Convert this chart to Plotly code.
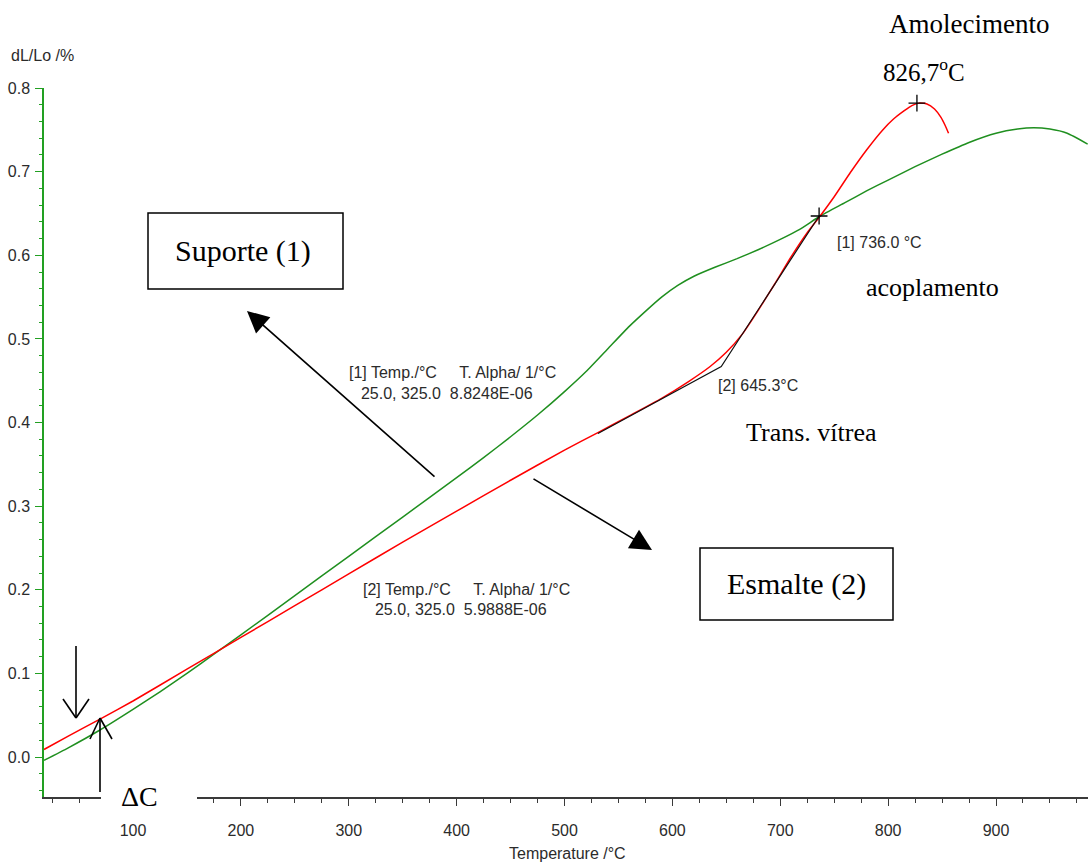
import plotly.graph_objects as go

# ---------------- data ----------------
suporte_T = [17.5, 40, 69, 100, 125, 150, 175, 200, 250, 300, 350, 400, 425, 450, 475, 500, 520,
             540, 560, 575, 590, 605, 620, 640, 660, 680, 700, 718, 737, 760, 780, 800, 825,
             850, 875, 900, 920, 935, 950, 966, 985]
suporte_dL = [-0.004, 0.011, 0.032, 0.057, 0.078, 0.100, 0.123, 0.146, 0.193, 0.240, 0.287, 0.334,
              0.358, 0.383, 0.409, 0.437, 0.461, 0.488, 0.515, 0.533, 0.550, 0.564, 0.575, 0.586,
              0.596, 0.607, 0.619, 0.631, 0.647, 0.663, 0.677, 0.690, 0.706, 0.721, 0.735,
              0.746, 0.751, 0.7525, 0.751, 0.746, 0.733]

esmalte_T = [17.5, 40, 69, 100, 150, 200, 250, 300, 350, 400, 450, 500, 531, 560, 590, 615, 635,
             650, 665, 680, 695, 710, 725, 737, 750, 765, 780, 795, 805, 815, 822, 828.6, 836,
             843, 849, 853, 856]
esmalte_dL = [0.009, 0.025, 0.045, 0.067, 0.105, 0.143, 0.181, 0.219, 0.257, 0.294, 0.331, 0.367,
              0.388, 0.408, 0.429, 0.449, 0.467, 0.484, 0.506, 0.535, 0.566, 0.598, 0.627, 0.647,
              0.670, 0.699, 0.726, 0.750, 0.763, 0.773, 0.779, 0.782, 0.781, 0.775, 0.765,
              0.755, 0.746]

tangent_T = [531, 645.3, 736.0]
tangent_dL = [0.387, 0.467, 0.647]

point_T = [736.0, 826.7]
point_dL = [0.647, 0.782]

x_ticks = [100, 200, 300, 400, 500, 600, 700, 800, 900]
y_ticks = [0.0, 0.1, 0.2, 0.3, 0.4, 0.5, 0.6, 0.7, 0.8]

# ---------------- layout geometry ----------------
W, H = 1088, 864
L, R, T, B = 44, 0, 88, 67
PW, PH = W - L - R, H - T - B


def px(x):
    return (x - L) / PW


def py(y):
    return (H - B - y) / PH


GREEN = "#1f8f1f"
AXGREEN = "#22a022"
RED = "#ff0000"
TXT = "#2b2b2b"
SANS = "Liberation Sans, Arial, sans-serif"
SERIF = "Liberation Serif, Times New Roman, serif"

fig = go.Figure()
fig.add_trace(go.Scatter(x=suporte_T, y=suporte_dL, mode="lines",
                         line=dict(color=GREEN, width=1.5, shape="spline", smoothing=0.5),
                         hoverinfo="skip"))
fig.add_trace(go.Scatter(x=esmalte_T, y=esmalte_dL, mode="lines",
                         line=dict(color=RED, width=1.5, shape="spline", smoothing=0.5),
                         hoverinfo="skip"))
fig.add_trace(go.Scatter(x=tangent_T, y=tangent_dL, mode="lines",
                         line=dict(color="#111111", width=1.2), hoverinfo="skip"))
fig.add_trace(go.Scatter(x=point_T, y=point_dL, mode="markers",
                         marker=dict(symbol="cross-thin", size=12,
                                     line=dict(color="black", width=1.3)),
                         hoverinfo="skip"))

annotations = []


def text(s, x, y, size=17, font=SANS, xanchor="left", color=TXT):
    annotations.append(dict(text=s, x=px(x), y=py(y), xref="paper", yref="paper",
                            xanchor=xanchor, yanchor="middle", showarrow=False,
                            font=dict(family=font, size=size, color=color)))


NB = "\u00a0"
text("dL/Lo /%", 9, 55, size=16)
text("Temperature /°C", 567, 853, size=16, xanchor="center")
text("Amolecimento", 969, 24, size=27, font=SERIF, xanchor="center", color="black")
text("826,7<sup>o</sup>C", 924, 70, size=25, font=SERIF, xanchor="center", color="black")
text("[1] 736.0 °C", 835, 242, size=16)
text("acoplamento", 932, 287, size=26, font=SERIF, xanchor="center", color="black")
text("[2] 645.3°C", 716, 385, size=16)
text("Trans. vítrea", 811, 432, size=26, font=SERIF, xanchor="center", color="black")
text("[1] Temp./°C" + NB * 5 + "T. Alpha/ 1/°C", 347, 372, size=16)
text(NB * 2 + "25.0, 325.0" + NB * 2 + "8.8248E-06", 350, 393, size=16)
text("[2] Temp./°C" + NB * 5 + "T. Alpha/ 1/°C", 361, 589, size=16)
text(NB * 2 + "25.0, 325.0" + NB * 2 + "5.9888E-06", 364, 609, size=16)
text("Suporte (1)", 243, 251, size=30, font=SERIF, xanchor="center", color="black")
text("Esmalte (2)", 796, 584, size=30, font=SERIF, xanchor="center", color="black")
text("ΔC", 119, 796, size=28, font=SERIF, color="black")

# big arrows (head position, tail offset in pixels)
for hx, hy, tx, ty in [(247, 311, 436, 478), (652, 550, 532, 478)]:
    annotations.append(dict(text="", x=px(hx), y=py(hy), xref="paper", yref="paper",
                            ax=tx - hx, ay=ty - hy, axref="pixel", ayref="pixel",
                            showarrow=True, arrowhead=2, arrowsize=2.7, arrowwidth=1.6,
                            arrowcolor="black", standoff=0))

shapes = []


def pline(x0, y0, x1, y1, w=1.6, color="black"):
    shapes.append(dict(type="line", xref="paper", yref="paper", x0=px(x0), y0=py(y0),
                       x1=px(x1), y1=py(y1), line=dict(color=color, width=w), layer="above"))


def prect(x0, y0, x1, y1, w=1.5, fill="rgba(0,0,0,0)", lc="black"):
    shapes.append(dict(type="rect", xref="paper", yref="paper", x0=px(x0), y0=py(y1),
                       x1=px(x1), y1=py(y0), line=dict(color=lc, width=w),
                       fillcolor=fill, layer="above"))


# white patch behind ΔC hiding the axis line
prect(101, 780, 197, 812, w=0, fill="white", lc="rgba(0,0,0,0)")
# text boxes
prect(148, 213, 343, 289)
prect(700, 548, 893, 620)
# small open arrows
pline(76, 646, 76, 718)
pline(63, 699, 76, 718)
pline(89, 699, 76, 718)
pline(100, 792, 100, 718)
pline(90, 739, 100, 718)
pline(112, 739, 100, 718)

# axis ranges from pixel calibration (100 °C -> x=133, 900 °C -> x=996; 0.0 -> y=757, 0.8 -> y=88)
xs = (996 - 133) / 800.0
x0c = 133 - 100 * xs
x_range = [(L - x0c) / xs, (W - R - x0c) / xs]
ys = (757 - 88) / 0.8
y_range = [(757 - (H - B)) / ys, 0.8001]

fig.update_layout(
    width=W, height=H, autosize=False,
    margin=dict(l=L, r=R, t=T, b=B, pad=0),
    paper_bgcolor="white", plot_bgcolor="white",
    showlegend=False,
    annotations=annotations, shapes=shapes,
    xaxis=dict(range=x_range, showgrid=False, zeroline=False, showline=True,
               linecolor="#3a3a3a", linewidth=1.5, ticks="outside", ticklen=7,
               tickcolor="#3a3a3a", tickwidth=1, tickvals=x_ticks,
               ticktext=[str(v) for v in x_ticks], ticklabelstandoff=11,
               tickfont=dict(family=SANS, size=16, color=TXT),
               minor=dict(dtick=25, tick0=0, ticks="outside", ticklen=4,
                          tickcolor="#3a3a3a", showgrid=False)),
    yaxis=dict(range=y_range, showgrid=False, zeroline=False, showline=True,
               linecolor=AXGREEN, linewidth=1.5, ticks="outside", ticklen=7,
               tickcolor=AXGREEN, tickwidth=1, tickvals=y_ticks,
               ticktext=[f"{v:.1f}" for v in y_ticks], ticklabelstandoff=2,
               tickfont=dict(family=SANS, size=16, color=TXT),
               minor=dict(dtick=0.02, tick0=0, ticks="outside", ticklen=3,
                          tickcolor=AXGREEN, showgrid=False)),
)

fig.write_html("out.html")
